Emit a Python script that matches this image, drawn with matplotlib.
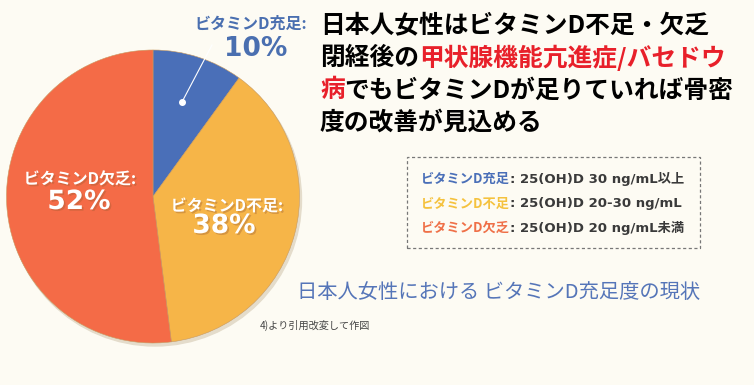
import matplotlib
matplotlib.use("Agg")
import matplotlib.pyplot as plt
import matplotlib.patheffects as pe

plt.rcParams['font.family'] = ['Noto Sans CJK JP', 'DejaVu Sans']
latin_first = ['DejaVu Sans', 'Noto Sans CJK JP']

# データ
labels = ['ビタミンD充足', 'ビタミンD不足', 'ビタミンD欠乏']
values = [10, 38, 52]
colors = ['#4a6fb8', '#f6b548', '#f46b47']
legend_colors = ['#4a6fb8', '#f5c23e', '#ef7048']
criteria = [': 25(OH)D 30 ng/mL以上', ': 25(OH)D 20-30 ng/mL', ': 25(OH)D 20 ng/mL未満']

title_lines = [
    [('日本人女性はビタミンD不足・欠乏', 'black')],
    [('閉経後の', 'black'), ('甲状腺機能亢進症/バセドウ', '#e8202a')],
    [('病', '#e8202a'), ('でもビタミンDが足りていれば骨密', 'black')],
    [('度の改善が見込める', 'black')],
]
caption = '日本人女性における ビタミンD充足度の現状'
source = '4)より引用改変して作図'

W, H = 754, 385
bg = '#fdfbf3'
fig = plt.figure(figsize=(W / 100, H / 100), dpi=100, facecolor=bg)
ax = fig.add_axes([0, 0, 1, 1])
ax.set_facecolor(bg)


def Y(py):
    # 画像のピクセル座標 (上から) -> データ座標
    return H - py


# 円グラフ
cx, cy, r = 153, Y(196.5), 146.5
shadow = plt.Circle((cx + 2, cy - 3), r, color='#e4dccb', zorder=0)
ax.add_patch(shadow)
ax.pie(values, colors=colors, startangle=90, counterclock=False,
       center=(cx, cy), radius=r, frame=True,
       wedgeprops=dict(edgecolor='#c89a60', linewidth=0.4))

ax.set_xlim(0, W)
ax.set_ylim(0, H)
ax.set_aspect('auto')
ax.axis('off')

shadow_fx = [pe.withSimplePatchShadow(offset=(1.2, -1.2), shadow_rgbFace='#9a5a30', alpha=0.35)]

# 充足ラベル（外側）
ax.text(251, Y(24), labels[0] + ':', color='#4a6fb0', fontsize=11.5, fontweight='bold',
        ha='center', va='center')
ax.text(256, Y(49), f'{values[0]}%', color='#4a6fb0', fontsize=19, fontweight='bold',
        ha='center', va='center', family=latin_first)
ax.plot([182, 212], [Y(102), Y(45)], color='white', lw=0.8)
ax.plot([182], [Y(102)], marker='o', color='white', markersize=4)

# 内側ラベル
ax.text(80, Y(179), labels[2] + ':', color='white', fontsize=11.5, fontweight='bold',
        ha='center', va='center', path_effects=shadow_fx)
ax.text(79, Y(202), f'{values[2]}%', color='white', fontsize=19, fontweight='bold',
        ha='center', va='center', path_effects=shadow_fx, family=latin_first)
ax.text(227, Y(206), labels[1] + ':', color='white', fontsize=11.5, fontweight='bold',
        ha='center', va='center', path_effects=shadow_fx)
ax.text(224, Y(226), f'{values[1]}%', color='white', fontsize=19, fontweight='bold',
        ha='center', va='center', path_effects=shadow_fx, family=latin_first)

renderer = fig.canvas.get_renderer()


def draw_pieces(x, y, pieces, **kw):
    for s, c in pieces:
        t = ax.text(x, y, s, color=c, ha='left', va='center', **kw)
        x += t.get_window_extent(renderer).width


# 見出しテキスト
for i, line in enumerate(title_lines):
    draw_pieces(320, Y(26 + i * 32.2), line, fontsize=17.8, fontweight='bold')

# 点線の枠
box = plt.Rectangle((407, Y(248)), 293, 91, fill=False, edgecolor='#777777',
                    linestyle=(0, (2.5, 2)), linewidth=0.9)
ax.add_patch(box)
for i in range(3):
    x0 = 421
    t = ax.text(x0, Y(179 + i * 24.5), labels[i], color=legend_colors[i], ha='left',
                va='center', fontsize=9.5, fontweight='bold')
    x0 += t.get_window_extent(renderer).width
    ax.text(x0, Y(179 + i * 24.5), criteria[i], color='#3a3a3a', ha='left',
            va='center', fontsize=9.5, fontweight='bold', family=latin_first)

# キャプション
ax.text(297, Y(293), caption, color='#5575b8', fontsize=14.6, ha='left', va='center')
ax.text(260, Y(325), source, color='#444444', fontsize=7.3, ha='left', va='center')

fig.savefig('out.png', dpi=100, facecolor=bg)
